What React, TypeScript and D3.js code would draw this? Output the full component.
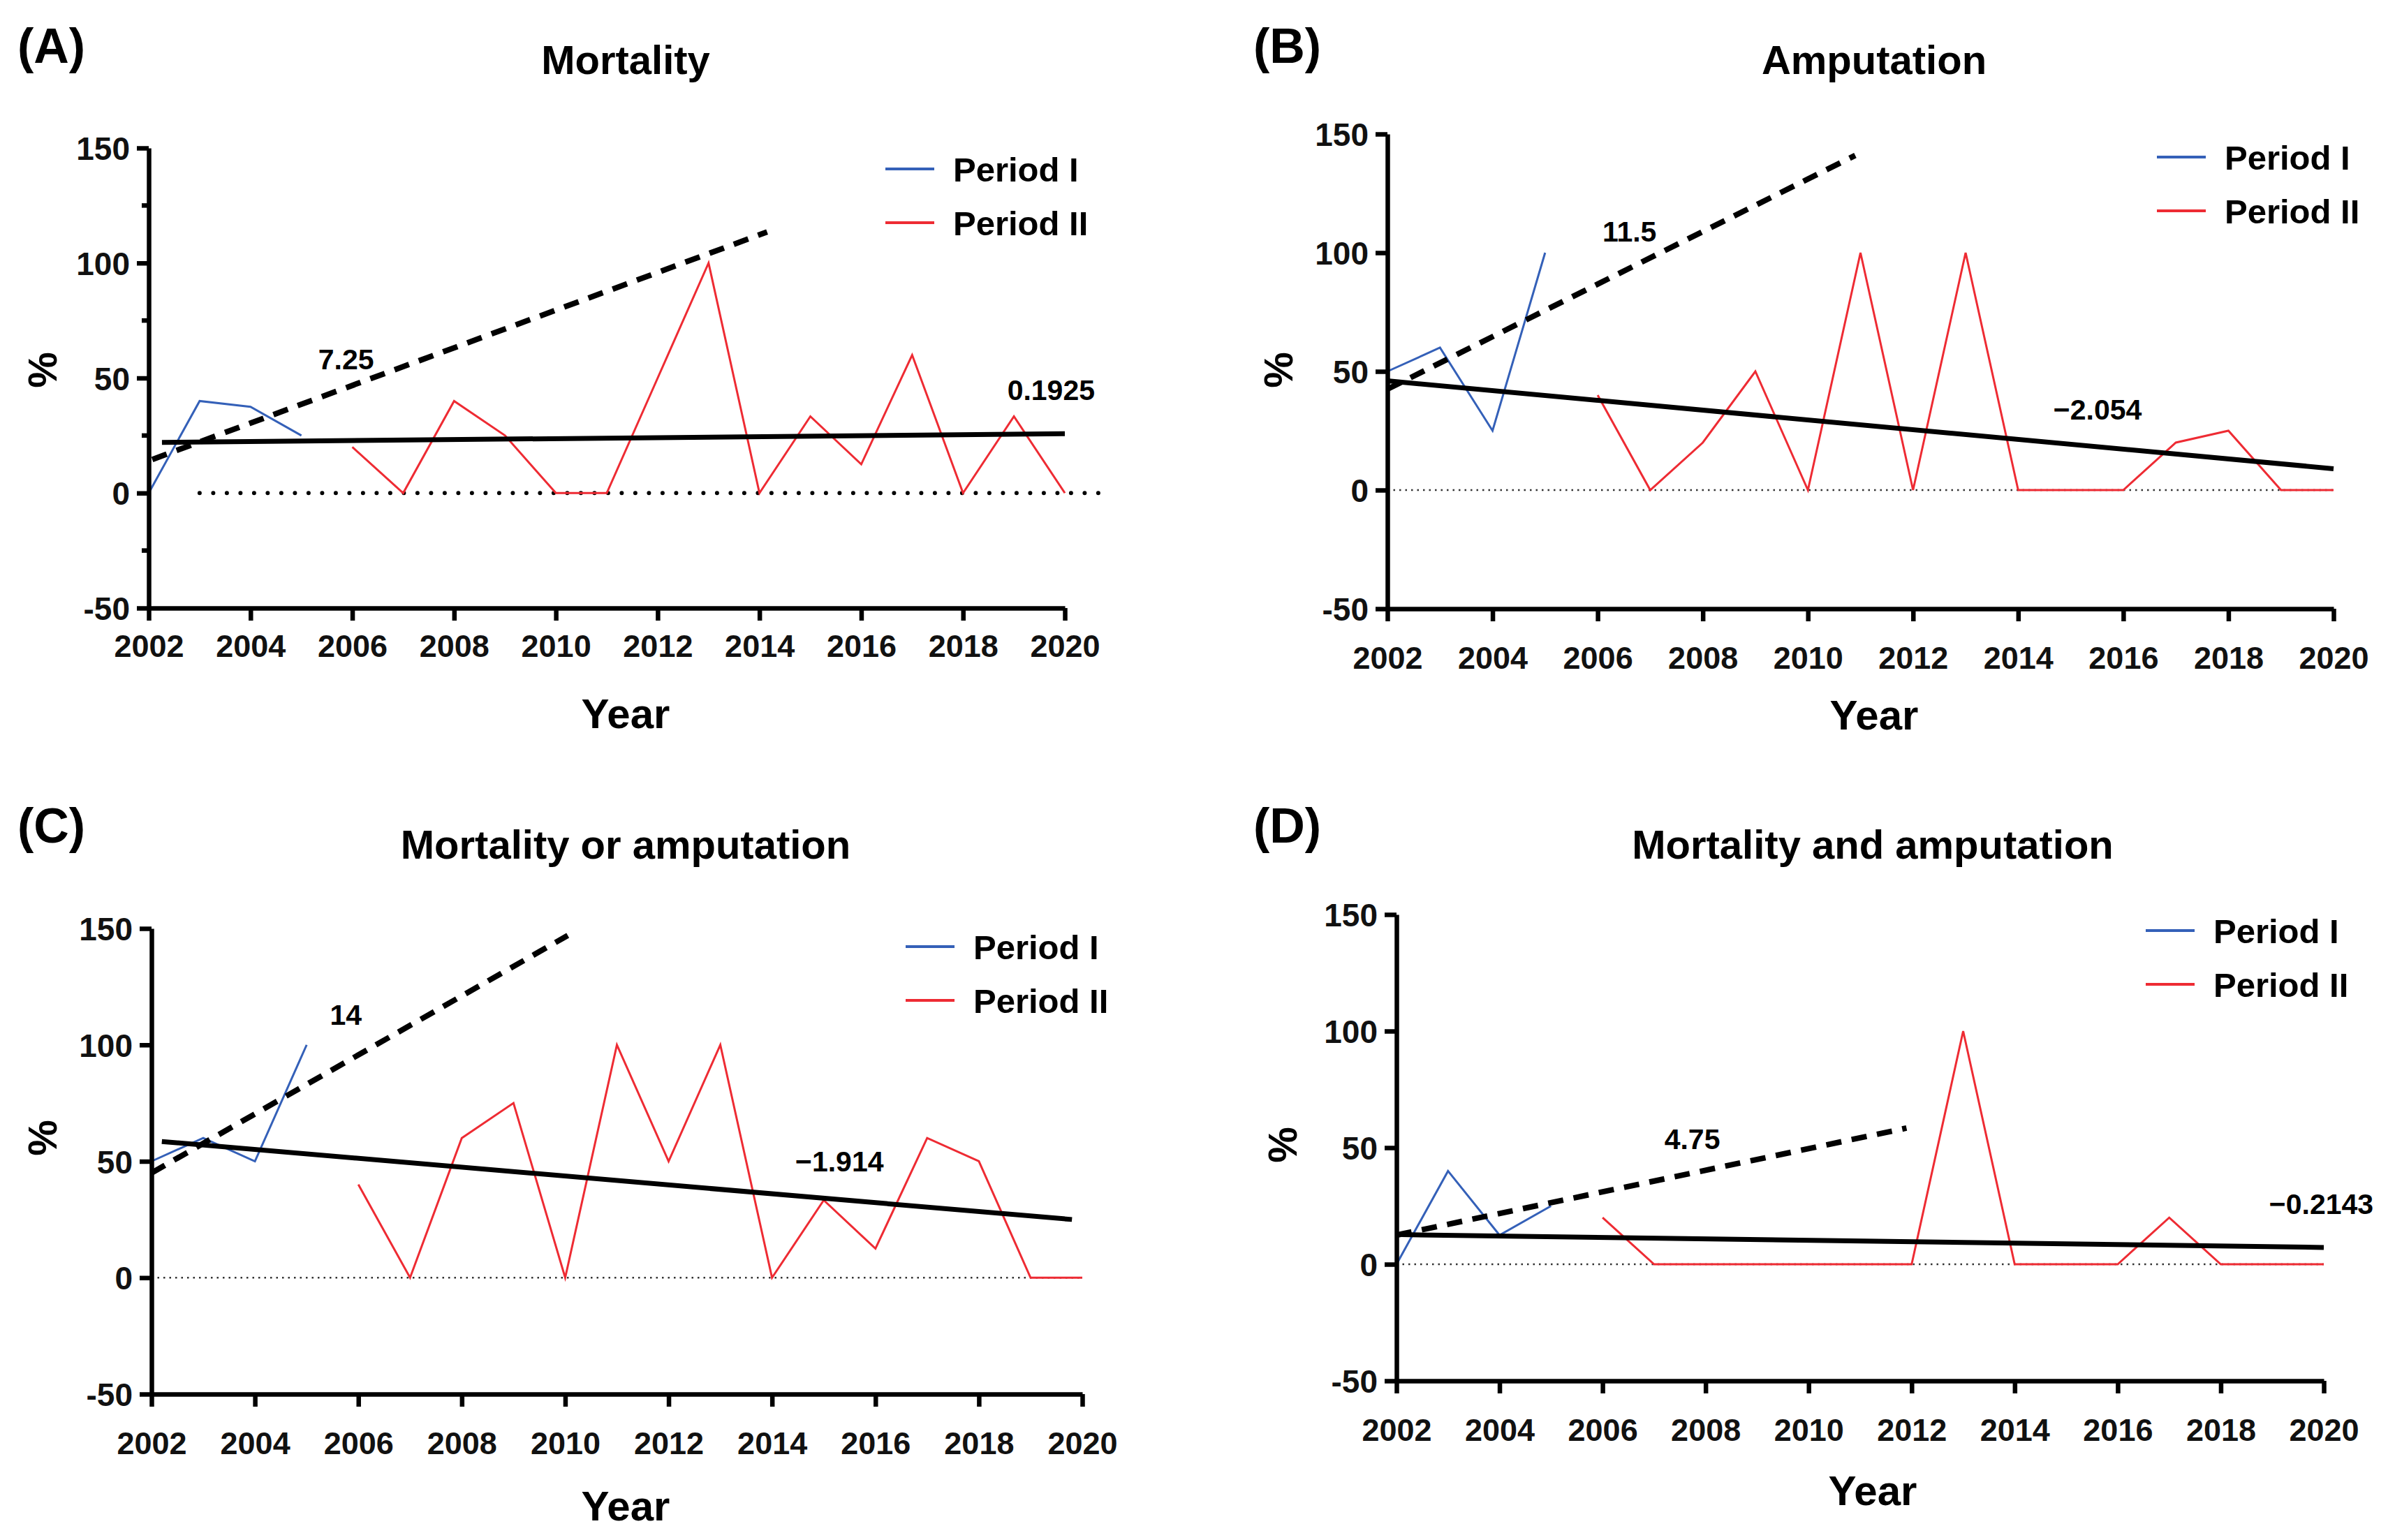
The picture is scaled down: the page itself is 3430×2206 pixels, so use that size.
import { useEffect, useRef } from "react"
import * as d3 from "d3"

const W = 3430
const H = 2206
const FONT = '"Liberation Sans", Arial, Helvetica, sans-serif'
const BLUE = "#3460b8"
const RED = "#ee2b33"

const yearsI = [2002, 2003, 2004, 2005]
const yearsII = [2006, 2007, 2008, 2009, 2010, 2011, 2012, 2013, 2014, 2015, 2016, 2017, 2018, 2019, 2020]
const xTicks = [2002, 2004, 2006, 2008, 2010, 2012, 2014, 2016, 2018, 2020]
const yTicks = [-50, 0, 50, 100, 150]
const yMinorA = [-25, 25, 75, 125]
const legendLabels = ["Period I", "Period II"]

// % per year
const mortalityI = [0, 40, 37.5, 25]
const mortalityII = [20, 0, 40, 25, 0, 0, 50, 100, 0, 33.3, 12.5, 60, 0, 33.3, 0]
const amputationI = [50, 60, 25, 100]
const amputationII = [40, 0, 20, 50, 0, 100, 0, 100, 0, 0, 0, 20, 25, 0, 0]
const eitherI = [50, 60, 50, 100]
const eitherII = [40, 0, 60, 75, 0, 100, 50, 100, 0, 33.3, 12.5, 60, 50, 0, 0]
const bothI = [0, 40, 12.5, 25]
const bothII = [20, 0, 0, 0, 0, 0, 0, 100, 0, 0, 0, 20, 0, 0, 0]

// fitted lines as drawn, [year, %]
const mortalityFitI: [number, number][] = [[2002.07, 14.6], [2014.15, 113.5]]
const mortalityFitII: [number, number][] = [[2002.26, 22], [2020, 25.8]]
const amputationFitI: [number, number][] = [[2002, 42.5], [2010.9, 141]]
const amputationFitII: [number, number][] = [[2002, 46], [2020, 9]]
const eitherFitI: [number, number][] = [[2002, 45], [2010.05, 147]]
const eitherFitII: [number, number][] = [[2002.2, 58.5], [2019.8, 25]]
const bothFitI: [number, number][] = [[2002, 12.5], [2011.9, 58.4]]
const bothFitII: [number, number][] = [[2002.1, 12.7], [2020, 7.2]]

// zero reference line extents
const mortalityZero = [2003, 2020.9]
const otherZero = [2002, 2020]

// slope labels: text, year, %
const mortalitySlopes: [string, number, number][] = [["7.25", 2005.33, 53.7], ["0.1925", 2018.87, 40.4]]
const amputationSlopes: [string, number, number][] = [["11.5", 2006.09, 104.7], ["\u22122.054", 2014.67, 29.7]]
const eitherSlopes: [string, number, number][] = [["14", 2005.45, 108.7], ["\u22121.914", 2014.45, 45.6]]
const bothSlopes: [string, number, number][] = [["4.75", 2007.2, 49.4], ["\u22120.2143", 2018.94, 21.7]]

const panels = [
  { letter: "(A)", title: "Mortality", p1: mortalityI, p2: mortalityII, fit1: mortalityFitI, fit2: mortalityFitII, zero: mortalityZero, slopes: mortalitySlopes, minor: true },
  { letter: "(B)", title: "Amputation", p1: amputationI, p2: amputationII, fit1: amputationFitI, fit2: amputationFitII, zero: otherZero, slopes: amputationSlopes, minor: false },
  { letter: "(C)", title: "Mortality or amputation", p1: eitherI, p2: eitherII, fit1: eitherFitI, fit2: eitherFitII, zero: otherZero, slopes: eitherSlopes, minor: false },
  { letter: "(D)", title: "Mortality and amputation", p1: bothI, p2: bothII, fit1: bothFitI, fit2: bothFitII, zero: otherZero, slopes: bothSlopes, minor: false },
]

const layouts = [
  { left: 213, right: 1525, top: 212, bottom: 871, tickDy: 70, yearY: 1043, titleX: 896, titleY: 106, letterX: 25, letterY: 90, pctX: 60, pctY: 530, legX: 1268, legY: 242 },
  { left: 1987, right: 3342, top: 192, bottom: 872, tickDy: 86, yearY: 1045, titleX: 2684, titleY: 106, letterX: 1795, letterY: 90, pctX: 1830, pctY: 530, legX: 3089, legY: 225 },
  { left: 217, right: 1550, top: 1330, bottom: 1997, tickDy: 86, yearY: 2178, titleX: 896, titleY: 1230, letterX: 25, letterY: 1207, pctX: 60, pctY: 1630, legX: 1297, legY: 1356 },
  { left: 2000, right: 3328, top: 1310, bottom: 1978, tickDy: 86, yearY: 2156, titleX: 2682, titleY: 1230, letterX: 1795, letterY: 1207, pctX: 1836, pctY: 1640, legX: 3073, legY: 1333 },
]

type PanelData = (typeof panels)[number]
type Layout = (typeof layouts)[number]

const AXIS_W = 6.5

const Panel = ({ d, l }: { d: PanelData; l: Layout }) => {
  const yRef = useRef<SVGGElement>(null)
  const xRef = useRef<SVGGElement>(null)

  const x = d3.scaleLinear().domain([2002, 2020]).range([l.left, l.right])
  const y = d3.scaleLinear().domain([-50, 150]).range([l.bottom, l.top])

  useEffect(() => {
    const yAxis = d3
      .axisLeft(y)
      .tickValues(yTicks)
      .tickFormat((v) => String(v))
      .tickSize(17)
      .tickSizeOuter(0)
      .tickPadding(10)
    const gy = d3.select(yRef.current!)
    gy.call(yAxis as any)
    gy.select(".domain").attr("stroke-width", AXIS_W).attr("stroke", "#000")
    gy.selectAll(".tick line").attr("stroke-width", AXIS_W).attr("stroke", "#000")
    gy.selectAll(".tick text")
      .attr("font-family", FONT)
      .attr("font-size", 46)
      .attr("font-weight", "bold")
      .attr("fill", "#111")
      .attr("dy", "0.36em")

    if (d.minor) {
      gy.selectAll(".minor")
        .data(yMinorA)
        .join("line")
        .attr("class", "minor")
        .attr("x1", -10)
        .attr("x2", 0)
        .attr("y1", (v) => y(v))
        .attr("y2", (v) => y(v))
        .attr("stroke", "#000")
        .attr("stroke-width", AXIS_W)
    }

    const xAxis = d3
      .axisBottom(x)
      .tickValues(xTicks)
      .tickFormat((v) => String(v))
      .tickSize(18)
      .tickSizeOuter(0)
    const gx = d3.select(xRef.current!)
    gx.call(xAxis as any)
    gx.select(".domain").attr("stroke-width", AXIS_W).attr("stroke", "#000")
    gx.selectAll(".tick line").attr("stroke-width", AXIS_W).attr("stroke", "#000")
    gx.selectAll(".tick text")
      .attr("font-family", FONT)
      .attr("font-size", 45)
      .attr("font-weight", "bold")
      .attr("fill", "#111")
      .attr("y", l.tickDy)
      .attr("dy", 0)
  }, [d, l])

  const line = d3
    .line<[number, number]>()
    .x((p) => x(p[0]))
    .y((p) => y(p[1]))

  const s1 = yearsI.map((yr, i) => [yr, d.p1[i]] as [number, number])
  const s2 = yearsII.map((yr, i) => [yr, d.p2[i]] as [number, number])
  const thick = d.minor

  return (
    <g>
      <text x={l.letterX} y={l.letterY} fontFamily={FONT} fontSize={70} fontWeight="bold">
        {d.letter}
      </text>
      <text x={l.titleX} y={l.titleY} textAnchor="middle" fontFamily={FONT} fontSize={58} fontWeight="bold">
        {d.title}
      </text>

      <line
        x1={x(d.zero[0])}
        x2={x(d.zero[1])}
        y1={y(0)}
        y2={y(0)}
        stroke={thick ? "#000" : "#333"}
        strokeWidth={thick ? 6 : 2.5}
        strokeDasharray={thick ? "0 19.5" : "2.5 6"}
        strokeLinecap={thick ? "round" : "butt"}
      />

      <path d={line(s1) ?? ""} fill="none" stroke={BLUE} strokeWidth={3} />
      <path d={line(s2) ?? ""} fill="none" stroke={RED} strokeWidth={3} />

      <path d={line(d.fit2) ?? ""} fill="none" stroke="#000" strokeWidth={7} />
      <path d={line(d.fit1) ?? ""} fill="none" stroke="#000" strokeWidth={8} strokeDasharray="22 15" />

      {d.slopes.map(([t, yr, v]) => (
        <text key={t} x={x(yr)} y={y(v)} fontFamily={FONT} fontSize={41} fontWeight="bold">
          {t}
        </text>
      ))}

      <g ref={yRef} transform={`translate(${l.left},0)`} />
      <g ref={xRef} transform={`translate(0,${l.bottom})`} />

      <text x={l.titleX} y={l.yearY} textAnchor="middle" fontFamily={FONT} fontSize={60} fontWeight="bold">
        Year
      </text>
      <text
        transform={`translate(${l.pctX},${l.pctY}) rotate(-90)`}
        textAnchor="middle"
        dy="0.36em"
        fontFamily={FONT}
        fontSize={58}
        fontWeight="bold"
      >
        %
      </text>

      {legendLabels.map((lab, i) => (
        <g key={lab} transform={`translate(${l.legX},${l.legY + i * 77})`}>
          <line x1={0} x2={70} y1={0} y2={0} stroke={i === 0 ? BLUE : RED} strokeWidth={4} />
          <text x={97} y={0} dy="0.36em" fontFamily={FONT} fontSize={49} fontWeight="bold">
            {lab}
          </text>
        </g>
      ))}
    </g>
  )
}

export default function App() {
  return (
    <svg
      width={W}
      height={H}
      viewBox={`0 0 ${W} ${H}`}
      style={{ position: "absolute", left: 0, top: 0, background: "#fff" }}
    >
      <rect width={W} height={H} fill="#fff" />
      {panels.map((p, i) => (
        <Panel key={p.letter} d={p} l={layouts[i]} />
      ))}
    </svg>
  )
}
